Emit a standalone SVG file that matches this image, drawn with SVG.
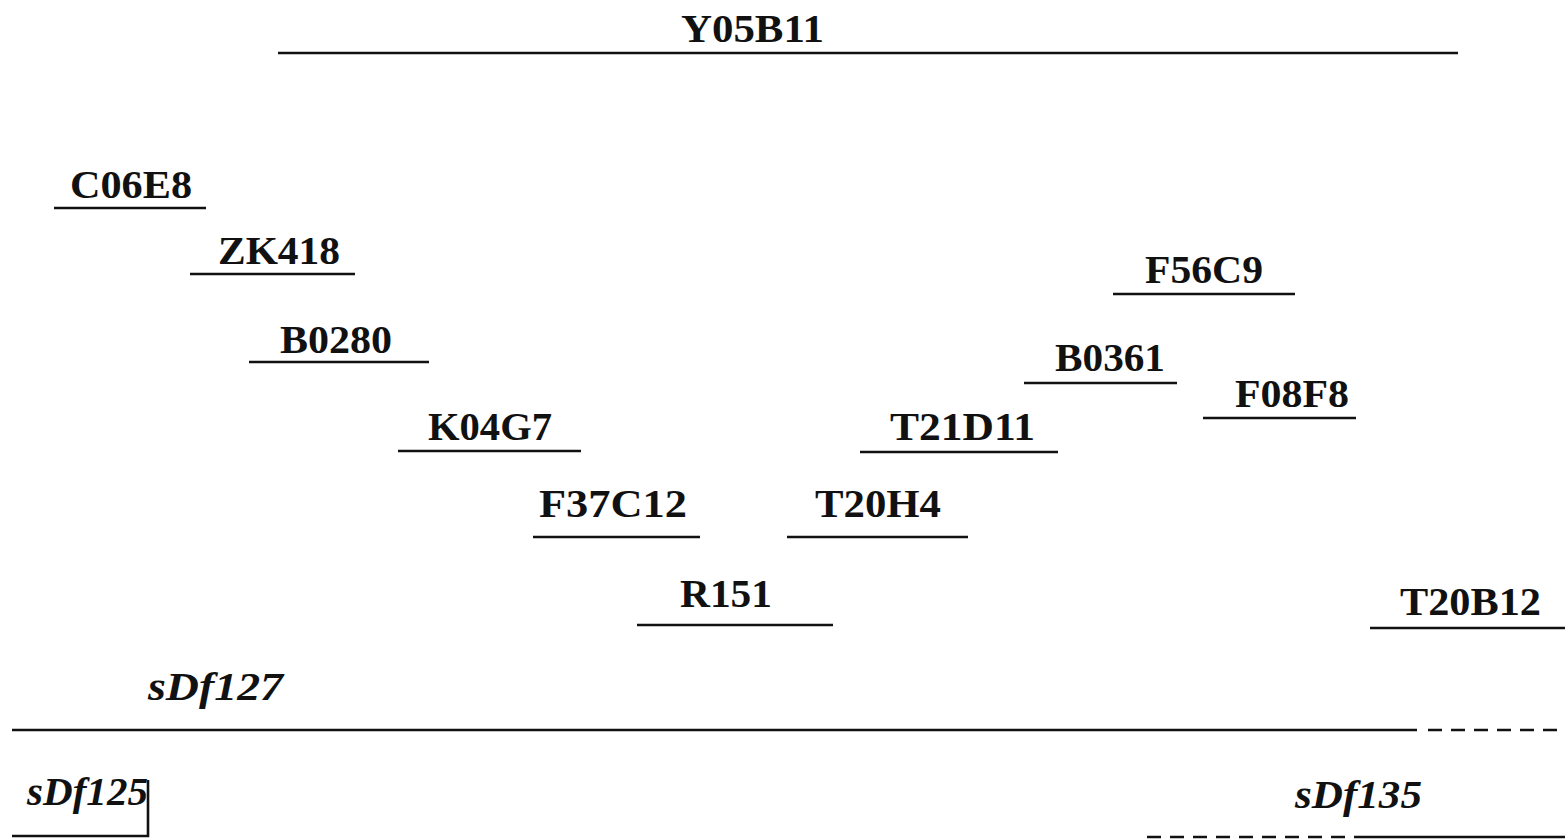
<svg xmlns="http://www.w3.org/2000/svg" width="1565" height="839" viewBox="0 0 1565 839">
<style>
.lbl{font-family:"Liberation Serif","Times New Roman",serif;font-weight:bold;font-size:40px;fill:#111}
.it{font-style:italic}
.ln{stroke:#111;stroke-width:2.6;fill:none}
.dash{stroke-dasharray:14 9}
</style>
<rect width="1565" height="839" fill="#fff"/>
<g id="Y05B11"><text class="lbl" x="681" y="42" textLength="143" lengthAdjust="spacingAndGlyphs">Y05B11</text></g>
<g id="C06E8"><text class="lbl" x="70" y="198" textLength="122" lengthAdjust="spacingAndGlyphs">C06E8</text></g>
<g id="ZK418"><text class="lbl" x="218" y="264" textLength="122" lengthAdjust="spacingAndGlyphs">ZK418</text></g>
<g id="B0280"><text class="lbl" x="280" y="353" textLength="112" lengthAdjust="spacingAndGlyphs">B0280</text></g>
<g id="K04G7"><text class="lbl" x="428" y="440" textLength="124" lengthAdjust="spacingAndGlyphs">K04G7</text></g>
<g id="T21D11"><text class="lbl" x="890" y="440" textLength="145" lengthAdjust="spacingAndGlyphs">T21D11</text></g>
<g id="F56C9"><text class="lbl" x="1145" y="283" textLength="118" lengthAdjust="spacingAndGlyphs">F56C9</text></g>
<g id="B0361"><text class="lbl" x="1055" y="371" textLength="110" lengthAdjust="spacingAndGlyphs">B0361</text></g>
<g id="F08F8"><text class="lbl" x="1235" y="407" textLength="114" lengthAdjust="spacingAndGlyphs">F08F8</text></g>
<g id="F37C12"><text class="lbl" x="539" y="517" textLength="148" lengthAdjust="spacingAndGlyphs">F37C12</text></g>
<g id="T20H4"><text class="lbl" x="815" y="517" textLength="126" lengthAdjust="spacingAndGlyphs">T20H4</text></g>
<g id="R151"><text class="lbl" x="680" y="607" textLength="92" lengthAdjust="spacingAndGlyphs">R151</text></g>
<g id="T20B12"><text class="lbl" x="1400" y="615" textLength="141" lengthAdjust="spacingAndGlyphs">T20B12</text></g>
<g id="sDf127"><text class="lbl it" x="148" y="700" textLength="135" lengthAdjust="spacingAndGlyphs">sDf127</text></g>
<g id="sDf125"><text class="lbl it" x="27" y="805" textLength="121" lengthAdjust="spacingAndGlyphs">sDf125</text></g>
<g id="sDf135"><text class="lbl it" x="1295" y="808" textLength="127" lengthAdjust="spacingAndGlyphs">sDf135</text></g>
<g id="connectors">
<line class="ln" x1="278" y1="53" x2="1458" y2="53"/>
<line class="ln" x1="54" y1="208" x2="206" y2="208"/>
<line class="ln" x1="190" y1="274" x2="355" y2="274"/>
<line class="ln" x1="249" y1="362" x2="429" y2="362"/>
<line class="ln" x1="398" y1="451" x2="581" y2="451"/>
<line class="ln" x1="860" y1="452" x2="1058" y2="452"/>
<line class="ln" x1="1113" y1="294" x2="1295" y2="294"/>
<line class="ln" x1="1024" y1="383" x2="1177" y2="383"/>
<line class="ln" x1="1203" y1="418" x2="1356" y2="418"/>
<line class="ln" x1="533" y1="537" x2="700" y2="537"/>
<line class="ln" x1="787" y1="537" x2="968" y2="537"/>
<line class="ln" x1="637" y1="625" x2="833" y2="625"/>
<line class="ln" x1="1370" y1="628" x2="1565" y2="628"/>
<line class="ln" x1="12" y1="730" x2="1417" y2="730"/>
<line class="ln dash" x1="1428" y1="730" x2="1565" y2="730"/>
<polyline class="ln" points="148,780 148,836 12,836"/>
<line class="ln dash" x1="1147" y1="837" x2="1367" y2="837"/>
<line class="ln" x1="1367" y1="837" x2="1565" y2="837"/>
</g>
</svg>
